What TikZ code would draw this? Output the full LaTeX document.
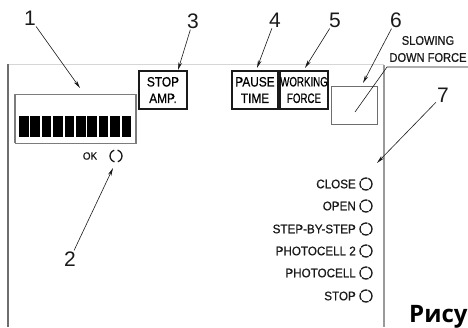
\documentclass[tikz,border=0pt]{standalone}
\usepackage{fontspec}
\usepackage{tikz}
\usetikzlibrary{arrows.meta}
\setmainfont{Liberation Sans}
\newfontfamily\LampFont[FakeBold=0.7,FakeStretch=0.94]{Liberation Sans}
\newfontfamily\CondFont[FakeBold=0.7,FakeStretch=0.88]{Liberation Sans}
\newfontfamily\NarrowFont[FakeBold=0.7,FakeStretch=0.72]{Liberation Sans}
\newfontfamily\CaptionFont{Open Sans}
\definecolor{Ink}{HTML}{1A1A1A}
\definecolor{FrameDark}{HTML}{6E6E6E}
\definecolor{FrameMid}{HTML}{9A9A9A}
\definecolor{FrameLight}{HTML}{D6D6D6}
\definecolor{Bezel}{HTML}{7C7C7C}
\begin{document}
\begin{tikzpicture}[x=1pt,y=-1pt,
    numlabel/.style={inner sep=1pt,font=\fontsize{21}{21}\selectfont,text=Ink},
    pointer/.style={-{Stealth[length=8pt,width=3.6pt]},draw=Ink,line width=.6pt},
    panelbox/.style={draw=Ink,line width=1.1pt,inner sep=0pt,minimum height=38pt,align=center,font=\CondFont\fontsize{13.5}{16.5}\selectfont},
    lamptext/.style={anchor=east,inner sep=0pt,font=\LampFont\fontsize{12.4}{12.4}\selectfont,text=Ink},
    lamp/.style={circle,draw=Ink,line width=1.3pt,minimum size=12pt,inner sep=0pt,dash pattern=on 7pt off .9pt}]
      \useasboundingbox (0,0) rectangle (468,327);
      \path[draw=FrameLight,line width=1pt] (8,64.5) -- (384,64.5);
      \path[draw=FrameDark,line width=2pt] (8,64) -- (8,327);
      \path[draw=FrameMid,line width=2pt] (384,65) -- (384,327);
      \path[draw=Bezel,line width=.6pt] (15,94) rectangle (136,143);
      \path[draw=Bezel,line width=1.4pt] (15,94) -- (15,143) (136,94) -- (136,143);
      \path[fill=black] (19,116) rectangle (28.6,137);
      \path[fill=black] (30.4,116) rectangle (40,137);
      \path[fill=black] (41.8,116) rectangle (51.4,137);
      \path[fill=black] (53.2,116) rectangle (62.8,137);
      \path[fill=black] (64.6,116) rectangle (74.2,137);
      \path[fill=black] (76,116) rectangle (85.6,137);
      \path[fill=black] (87.4,116) rectangle (97,137);
      \path[fill=black] (98.8,116) rectangle (108.4,137);
      \path[fill=black] (110.2,116) rectangle (119.8,137);
      \path[fill=black] (121.6,116) rectangle (131.2,137);
      \node[inner sep=0pt,font=\LampFont\fontsize{10.5}{10.5}\selectfont,text=Ink] (ok) at (90,156) {OK};
      \node[circle,draw=Ink,line width=1.3pt,minimum size=12pt,inner sep=0pt,dash pattern=on 15.5pt off 3.3pt,dash phase=7.7pt] (oklamp) at (116,156) {};
      \node[panelbox,minimum width=48pt] (stopamp) at (163,90) {STOP\\AMP.};
      \node[panelbox,minimum width=46pt] (pause) at (255,90) {PAUSE\\TIME};
      \node[panelbox,minimum width=48pt,font=\NarrowFont\fontsize{13.5}{16.5}\selectfont] (working) at (304,90) {WORKING\\FORCE};
      \node[draw=FrameDark,line width=.8pt,minimum width=46pt,minimum height=38pt,inner sep=0pt] (slowbox) at (354,105) {};
      \node[align=center,inner sep=0pt,font=\CondFont\fontsize{12.6}{17}\selectfont,text=Ink] (slowtext) at (428,49) {SLOWING\\DOWN FORCE};
      \node[lamptext] (close) at (356,184) {CLOSE};
      \node[lamptext] (open) at (356,206) {OPEN};
      \node[lamptext] (step) at (356,229) {STEP-BY-STEP};
      \node[lamptext] (photo2) at (356,251) {PHOTOCELL 2};
      \node[lamptext] (photo) at (356,273) {PHOTOCELL};
      \node[lamptext] (stop) at (356,296) {STOP};
      \node[lamp] (closelamp) at (366,184) {};
      \node[lamp] (openlamp) at (366,206) {};
      \node[lamp] (steplamp) at (366,229) {};
      \node[lamp] (photo2lamp) at (366,251) {};
      \node[lamp] (photolamp) at (366,273) {};
      \node[lamp] (stoplamp) at (366,296) {};
      \node[numlabel] (n1) at (30,18) {1};
      \node[numlabel] (n2) at (70,259) {2};
      \node[numlabel] (n3) at (193,21) {3};
      \node[numlabel] (n4) at (275,20) {4};
      \node[numlabel] (n5) at (335,20) {5};
      \node[numlabel] (n6) at (396,20) {6};
      \node[numlabel] (n7) at (443,95) {7};
      \coordinate (tip1) at (80,88);
      \coordinate (tip2) at (113,168);
      \coordinate (tip3) at (178,70);
      \coordinate (tip4) at (257,68);
      \coordinate (tip5) at (305,68);
      \coordinate (tip6) at (363,83);
      \coordinate (tip7) at (377,163);
      \coordinate (leadfoot) at (355,112);
      \coordinate (leadknee) at (387,67);
      \coordinate (leadend) at (468,67);
      \draw[pointer] (n1) -- (tip1);
      \draw[pointer] (n2) -- (tip2);
      \draw[pointer] (n3) -- (tip3);
      \draw[pointer] (n4) -- (tip4);
      \draw[pointer] (n5) -- (tip5);
      \draw[pointer] (n6) -- (tip6);
      \draw[pointer] (n7) -- (tip7);
      \draw[Ink,line width=.6pt] (leadfoot) -- (leadknee) -- (leadend);
      \node[anchor=base west,inner sep=0pt,font=\CaptionFont\bfseries\fontsize{24}{24}\selectfont] (caption) at (409,322) {Рису};
    \end{tikzpicture}
\end{document}
